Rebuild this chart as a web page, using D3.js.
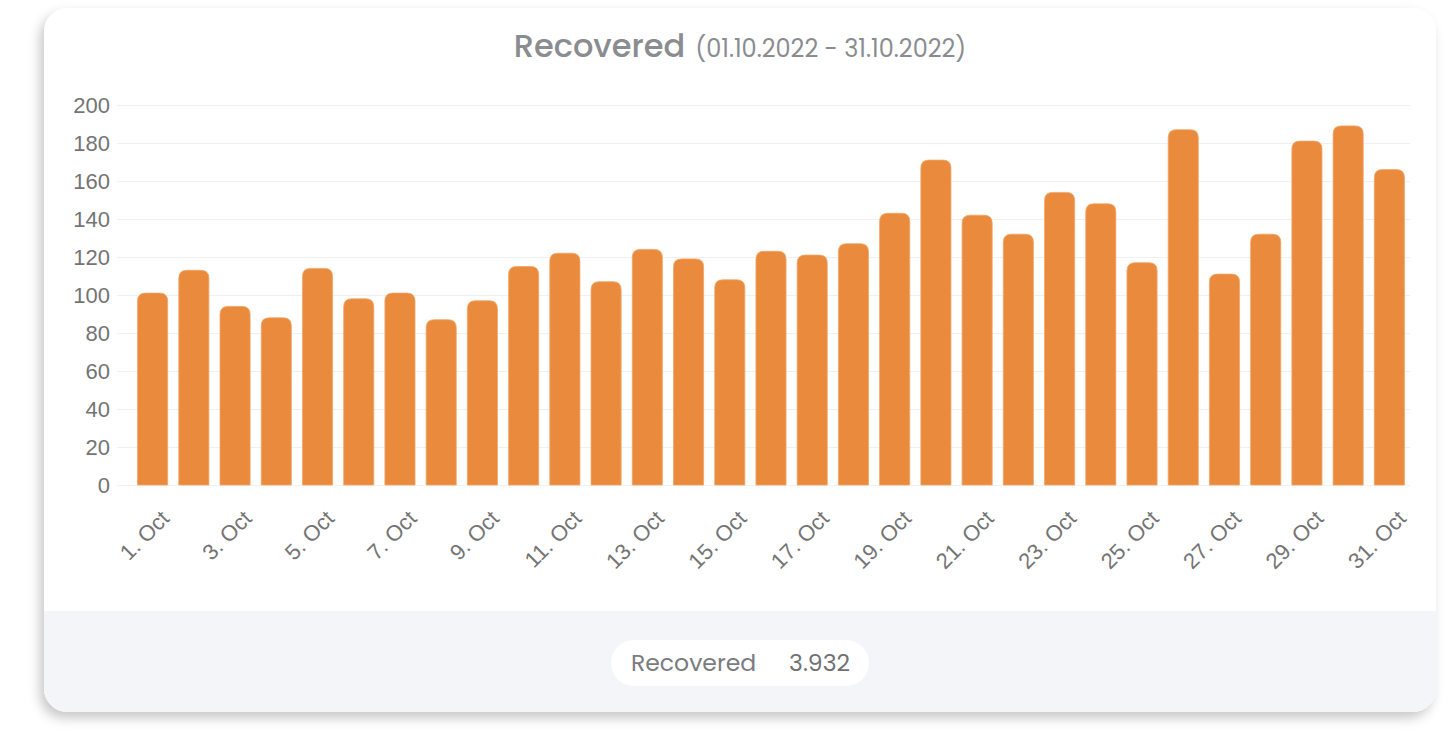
<!DOCTYPE html>
<html>
<head>
<meta charset="utf-8">
<script src="https://cdn.jsdelivr.net/npm/d3@7"></script>
<style>
  html, body { margin: 0; padding: 0; background: #ffffff; }
  svg { display: block; }
</style>
</head>
<body>
<svg id="chart" width="1448" height="733"></svg>
<script>
// Daily recovered counts, October 2022
const days = d3.range(1, 32).map(d => d + ". Oct");
const recovered = [101, 113, 94, 88, 114, 98, 101, 87, 97, 115, 122, 107, 124, 119, 108, 123,
                   121, 127, 143, 171, 142, 132, 154, 148, 117, 187, 111, 132, 181, 189, 166];
const yTicks = [0, 20, 40, 60, 80, 100, 120, 140, 160, 180, 200];
const titleMain = "Recovered";
const titleRange = "(01.10.2022 - 31.10.2022)";
const totalLabel = "Recovered";

const svg = d3.select("#chart");

// card with soft shadow
const defs = svg.append("defs");
const f = defs.append("filter").attr("id", "shadow")
  .attr("x", "-5%").attr("y", "-5%").attr("width", "110%").attr("height", "115%");
f.append("feDropShadow").attr("dx", -4).attr("dy", 6).attr("stdDeviation", 6)
  .attr("flood-color", "#000").attr("flood-opacity", 0.22);
defs.append("clipPath").attr("id", "cardClip")
  .append("rect").attr("x", 44).attr("y", 8).attr("width", 1392).attr("height", 704).attr("rx", 24);

const card = { x: 44, y: 8, w: 1392, h: 704 };
svg.append("rect").attr("x", card.x).attr("y", card.y).attr("width", card.w).attr("height", card.h)
  .attr("rx", 24).attr("fill", "#ffffff").attr("filter", "url(#shadow)");
svg.append("rect").attr("x", card.x).attr("y", 611).attr("width", card.w).attr("height", card.y + card.h - 611)
  .attr("fill", "#f4f5f8").attr("clip-path", "url(#cardClip)");

// title
const title = svg.append("text").attr("x", 740).attr("y", 57).attr("text-anchor", "middle")
  .attr("font-family", "Poppins, Inter, 'Open Sans', sans-serif").attr("fill", "#8a8c90");
title.append("tspan").attr("font-size", 32).attr("font-weight", 500).text(titleMain);
title.append("tspan").attr("font-size", 24).attr("dx", 10).text(titleRange);

// scales
const x = d3.scaleBand().domain(days).range([132, 1410]).paddingInner(0.27).paddingOuter(0.135);
const y = d3.scaleLinear().domain([0, 200]).range([485, 105]);

// grid lines
svg.append("g").selectAll("line").data(yTicks).join("line")
  .attr("x1", 117).attr("x2", 1410)
  .attr("y1", d => y(d) + 0.5).attr("y2", d => y(d) + 0.5)
  .attr("stroke", "#f0f0f2").attr("stroke-width", 1.2);

// y axis labels
const yAxis = d3.axisLeft(y).tickValues(yTicks).tickSize(0).tickPadding(0);
const gy = svg.append("g").attr("transform", "translate(110,0)").call(yAxis);
gy.select(".domain").remove();
gy.selectAll("text").attr("font-family", "'Liberation Sans', Arial, sans-serif")
  .attr("font-size", 22).attr("fill", "#747474").attr("dy", "0.35em");

// bars with rounded tops
const r = 8;
function barPath(d, i) {
  const x0 = x(days[i]), w = x.bandwidth(), yt = y(d), yb = y(0);
  return `M${x0},${yb}V${yt + r}Q${x0},${yt} ${x0 + r},${yt}H${x0 + w - r}Q${x0 + w},${yt} ${x0 + w},${yt + r}V${yb}Z`;
}
svg.append("g").selectAll("path").data(recovered).join("path")
  .attr("d", (d, i) => barPath(d, i))
  .attr("fill", "#ea8a3c").attr("stroke", "#f2a466").attr("stroke-width", 0.8);

// x axis labels, every second day, rotated
const xAxis = d3.axisBottom(x).tickValues(days.filter((d, i) => i % 2 === 0)).tickSize(0).tickPadding(0);
const gx = svg.append("g").attr("transform", "translate(0,485)").call(xAxis);
gx.select(".domain").remove();
gx.selectAll("text")
  .attr("font-family", "'Liberation Sans', Arial, sans-serif").attr("font-size", 22).attr("fill", "#747474")
  .attr("text-anchor", "end").attr("dy", 0).attr("y", 0)
  .attr("transform", "translate(18,35) rotate(-45)");

// legend pill with total
const total = d3.sum(recovered);
svg.append("rect").attr("x", 611).attr("y", 640).attr("width", 258).attr("height", 46)
  .attr("rx", 23).attr("fill", "#ffffff");
const lg = svg.append("text").attr("y", 671).attr("font-family", "Poppins, Inter, 'Open Sans', sans-serif")
  .attr("font-size", 23.5).attr("fill", "#7a7c80");
lg.append("tspan").attr("x", 631).text(totalLabel);
lg.append("tspan").attr("x", 850).attr("text-anchor", "end").attr("fill", "#6f7175")
  .text(d3.format(",")(total).replace(/,/g, "."));
</script>
</body>
</html>
